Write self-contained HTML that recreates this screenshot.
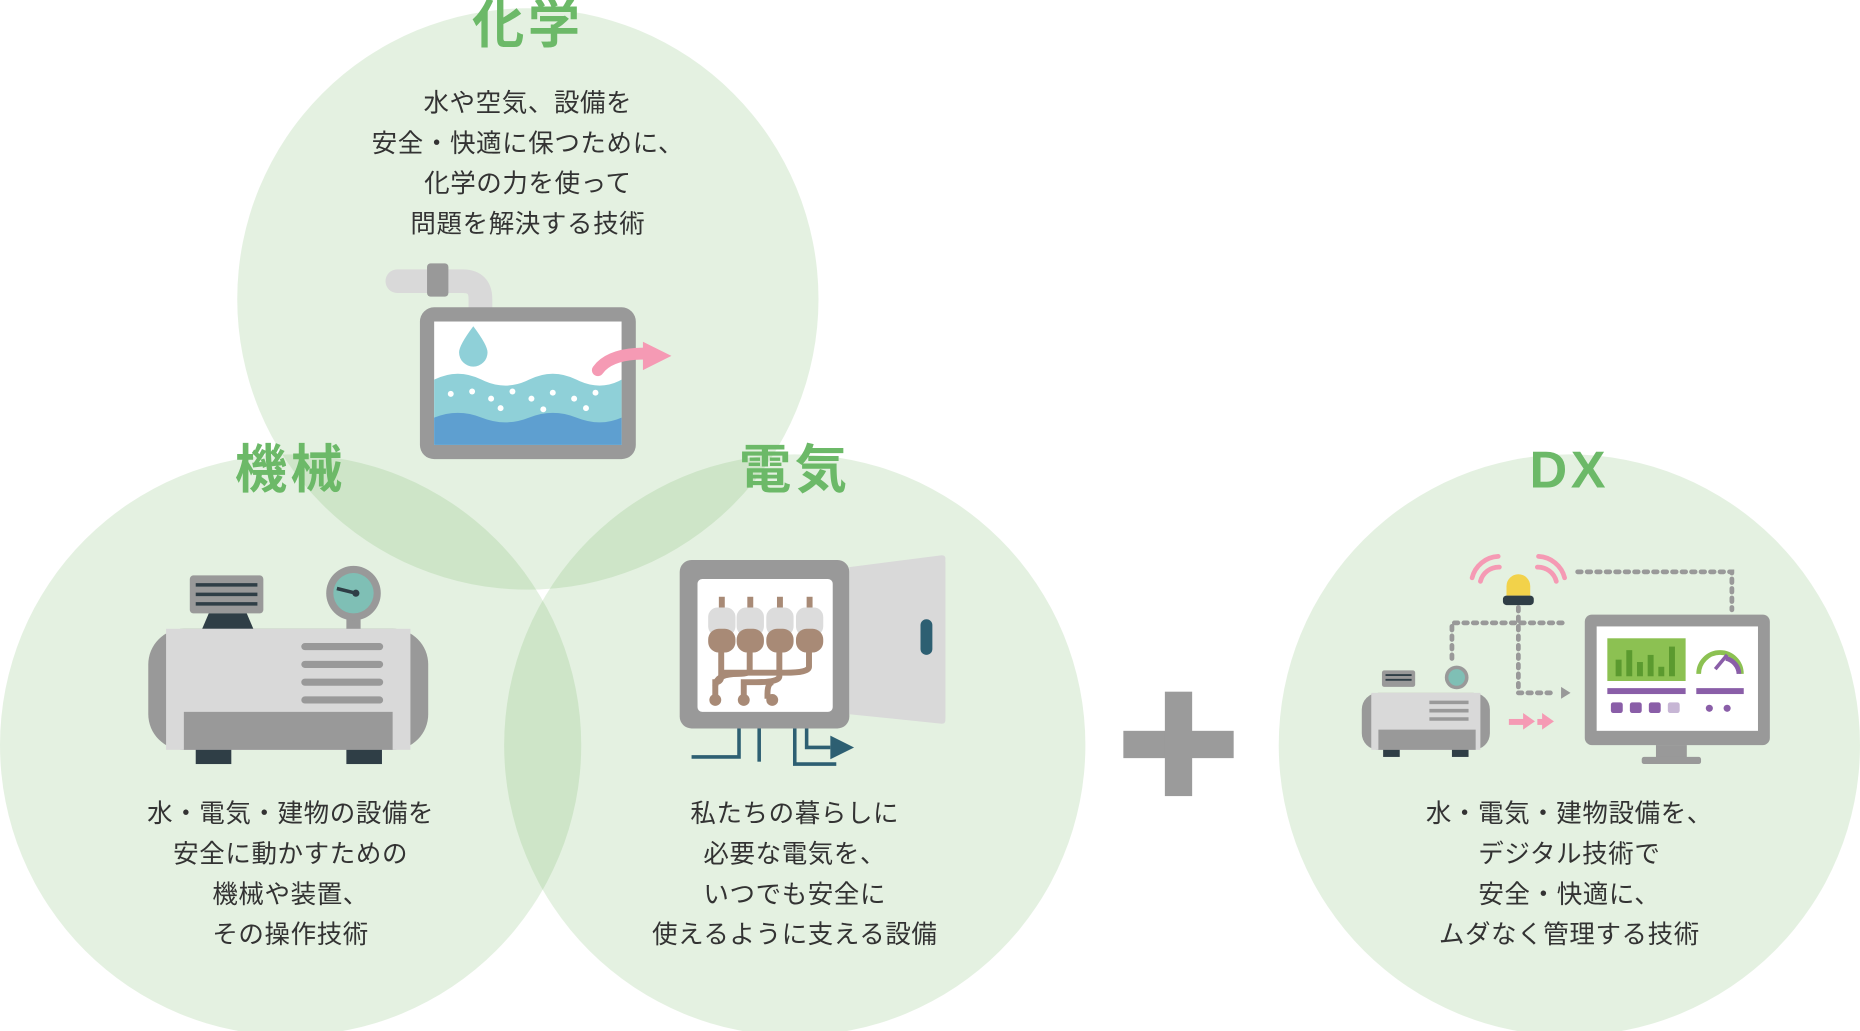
<!DOCTYPE html>
<html><head><meta charset="utf-8"><style>
html,body{margin:0;padding:0;background:#fff;width:1860px;height:1031px;overflow:hidden}
#w{position:absolute;left:0;top:0;width:1568px;height:869px;transform-origin:0 0;transform:scale(1.18622,1.18642)}
svg{position:absolute;left:0;top:0}
.t{position:absolute;text-align:center;font-family:"Liberation Sans","Noto Sans CJK JP",sans-serif;color:#333;font-size:21.5px;line-height:34px;width:400px;letter-spacing:0.5px}
.h{position:absolute;text-align:center;font-family:"Liberation Sans","Noto Sans CJK JP",sans-serif;color:#6cb968;font-size:44px;font-weight:bold;width:300px;line-height:50px;letter-spacing:3px}
</style></head><body><div id="w">
<svg width="1568" height="869" viewBox="0 0 1568 869">
<g fill="rgb(110,180,90)" fill-opacity="0.185">
<circle cx="445" cy="252" r="245"/>
<circle cx="245" cy="628" r="245"/>
<circle cx="670" cy="628" r="245"/>
<circle cx="1323" cy="628" r="245"/>
</g>
<!-- plus -->
<rect x="947" y="616" width="93" height="23" fill="#9b9b9b"/>
<rect x="982" y="583" width="23" height="88" fill="#9b9b9b"/>
<!-- chem icon -->
<rect x="325" y="227" width="50" height="20" rx="10" fill="#d9d9d9"/>
<path d="M370 237 h20 q15 0 15 15 v15" stroke="#d9d9d9" stroke-width="20" fill="none"/>
<rect x="360" y="222" width="18" height="28" rx="3" fill="#999"/>
<rect x="354" y="259" width="182" height="128" rx="12" fill="#999"/>
<rect x="366" y="271" width="158" height="104" fill="#fff"/>
<path d="M366 320 q20 -10 40 0 t40 0 t40 0 t38 0 V375 H366Z" fill="#8fd0d8"/>
<path d="M366 352 q20 -8 40 0 t40 0 t40 0 t38 0 V375 H366Z" fill="#5e9fd0"/>
<g fill="#fff"><circle cx="380" cy="332" r="2.5"/><circle cx="398" cy="330" r="2.5"/><circle cx="414" cy="336" r="2.5"/><circle cx="432" cy="330" r="2.5"/><circle cx="448" cy="336" r="2.5"/><circle cx="466" cy="331" r="2.5"/><circle cx="484" cy="336" r="2.5"/><circle cx="502" cy="331" r="2.5"/><circle cx="422" cy="344" r="2.5"/><circle cx="458" cy="345" r="2.5"/><circle cx="494" cy="344" r="2.5"/></g>
<path d="M399 275 q-12 16 -12 22 a12 12 0 0 0 24 0 q0 -6 -12 -22Z" fill="#8fd0d8"/>
<rect x="510" y="290" width="26" height="30" fill="#e5f1df" opacity="0"/>
<path d="M504 312 q10 -14 40 -14" stroke="#f59ab4" stroke-width="10" fill="none" stroke-linecap="round"/>
<path d="M542 288 l24 12 l-24 12Z" fill="#f59ab4"/>
<!-- machine icon -->
<rect x="160" y="485" width="62" height="32" rx="3" fill="#999"/>
<g stroke="#2f3e46" stroke-width="3"><line x1="165" y1="493" x2="217" y2="493"/><line x1="165" y1="501" x2="217" y2="501"/><line x1="165" y1="509" x2="217" y2="509"/></g>
<path d="M176 517 h32 l6 14 h-44z" fill="#2f3e46"/>
<rect x="292" y="518" width="12" height="14" fill="#999"/>
<circle cx="298" cy="500" r="23" fill="#999"/><circle cx="298" cy="500" r="17" fill="#7fbfb5"/>
<line x1="284" y1="496" x2="300" y2="500" stroke="#2f3e46" stroke-width="3"/><circle cx="300" cy="500" r="3" fill="#2f3e46"/>
<rect x="125" y="530" width="236" height="102" rx="30" fill="#999"/>
<rect x="140" y="530" width="206" height="102" fill="#d9d9d9"/>
<rect x="155" y="600" width="176" height="32" fill="#999"/>
<g stroke="#999" stroke-width="6" stroke-linecap="round"><line x1="257" y1="545" x2="320" y2="545"/><line x1="257" y1="560" x2="320" y2="560"/><line x1="257" y1="575" x2="320" y2="575"/><line x1="257" y1="590" x2="320" y2="590"/></g>
<rect x="165" y="632" width="30" height="12" fill="#2f3e46"/><rect x="292" y="632" width="30" height="12" fill="#2f3e46"/>
<!-- electric icon -->
<rect x="573" y="472" width="143" height="142" rx="10" fill="#999"/>
<rect x="588" y="488" width="114" height="112" rx="4" fill="#fff"/>
<path d="M716 478 l78 -10 q3 0 3 3 v136 q0 3 -3 3 l-78 -8Z" fill="#d9d9d9"/>
<rect x="776" y="522" width="10" height="30" rx="5" fill="#2d5f72"/>
<g fill="#a88a76">
<rect x="606" y="503" width="5" height="12"/><rect x="630" y="503" width="5" height="12"/><rect x="655" y="503" width="5" height="12"/><rect x="680" y="503" width="5" height="12"/>
</g>
<g fill="#dcdcdc"><rect x="597" y="512" width="23" height="24" rx="8"/><rect x="621" y="512" width="23" height="24" rx="8"/><rect x="646" y="512" width="23" height="24" rx="8"/><rect x="671" y="512" width="23" height="24" rx="8"/></g>
<g fill="#a88a76"><rect x="597" y="530" width="23" height="20" rx="9"/><rect x="621" y="530" width="23" height="20" rx="9"/><rect x="646" y="530" width="23" height="20" rx="9"/><rect x="671" y="530" width="23" height="20" rx="9"/></g>
<g stroke="#a88a76" stroke-width="5" fill="none"><path d="M608 550 v20 q0 5 -5 5 h0 v14"/><path d="M632 550 v15 q0 3 -10 3 q-18 0 -19 10"/><path d="M657 550 v20 q0 5 -20 5 h-10 v14"/><path d="M682 550 v12 q0 5 -20 5 h-55"/><path d="M652 575 q-5 0 -5 10 v4"/></g>
<g fill="#a88a76"><circle cx="603" cy="590" r="5"/><circle cx="627" cy="590" r="5"/><circle cx="651" cy="590" r="5"/></g>
<g stroke="#2d5f72" stroke-width="3" fill="none"><path d="M583 638 h40 v-24"/><path d="M640 614 v28"/><path d="M670 614 v30 h35"/><path d="M680 614 v16 h20"/></g>
<path d="M700 620 l20 10 l-20 10Z" fill="#2d5f72"/>
<!-- DX icon -->
<g fill="none" stroke="#999" stroke-width="4" stroke-dasharray="3 5" stroke-linecap="round">
<path d="M1330 482 h130 v32"/><path d="M1224 555 v-30 h98"/><path d="M1280 512 v72 h32"/>
</g>
<path d="M1316 579 l8 5 l-8 5Z" fill="#999"/>
<g stroke="#f59ab4" stroke-width="4" fill="none" stroke-linecap="round"><path d="M1248 490 a16 16 0 0 1 16 -12"/><path d="M1241 487 a24 24 0 0 1 22 -18"/><path d="M1312 490 a16 16 0 0 0 -16 -12"/><path d="M1319 487 a24 24 0 0 0 -22 -18"/></g>
<path d="M1270 502 v-8 a10 10 0 0 1 20 0 v8z" fill="#f2d24a"/>
<rect x="1267" y="502" width="26" height="8" rx="3" fill="#2f3e46"/>
<rect x="1336" y="518" width="156" height="110" rx="6" fill="#999"/>
<rect x="1346" y="528" width="136" height="88" fill="#fff"/>
<rect x="1396" y="628" width="26" height="12" fill="#999"/><rect x="1384" y="638" width="50" height="6" rx="2" fill="#999"/>
<rect x="1355" y="538" width="66" height="36" fill="#8cc152"/>
<g fill="#5b9a2f"><rect x="1362" y="556" width="5" height="14"/><rect x="1371" y="548" width="5" height="22"/><rect x="1380" y="558" width="5" height="12"/><rect x="1389" y="552" width="5" height="18"/><rect x="1398" y="562" width="5" height="8"/><rect x="1407" y="545" width="5" height="25"/></g>
<path d="M1432 568 a18 18 0 0 1 36 0" stroke="#8cc152" stroke-width="4" fill="none"/>
<path d="M1455 555 a14 14 0 0 1 11 13" stroke="#8a5ea8" stroke-width="4" fill="none"/>
<line x1="1446" y1="564" x2="1456" y2="552" stroke="#8a5ea8" stroke-width="3"/>
<rect x="1355" y="580" width="66" height="5" fill="#8a5ea8"/><rect x="1430" y="580" width="40" height="5" fill="#8a5ea8"/>
<g fill="#8a5ea8"><rect x="1358" y="592" width="10" height="9" rx="2"/><rect x="1374" y="592" width="10" height="9" rx="2"/><rect x="1390" y="592" width="10" height="9" rx="2"/><rect x="1406" y="592" width="10" height="9" rx="2" fill="#c7b6d5"/><circle cx="1441" cy="597" r="3"/><circle cx="1456" cy="597" r="3"/></g>
<rect x="1165" y="565" width="28" height="14" rx="2" fill="#999"/>
<g stroke="#2f3e46" stroke-width="1.5"><line x1="1168" y1="569" x2="1190" y2="569"/><line x1="1168" y1="573" x2="1190" y2="573"/></g>
<circle cx="1228" cy="571" r="10" fill="#999"/><circle cx="1228" cy="571" r="7" fill="#7fbfb5"/>
<rect x="1148" y="584" width="108" height="48" rx="14" fill="#999"/>
<rect x="1156" y="584" width="92" height="48" fill="#d9d9d9"/>
<rect x="1162" y="615" width="82" height="17" fill="#999"/>
<g stroke="#999" stroke-width="3"><line x1="1205" y1="592" x2="1238" y2="592"/><line x1="1205" y1="599" x2="1238" y2="599"/><line x1="1205" y1="606" x2="1238" y2="606"/></g>
<rect x="1166" y="632" width="14" height="6" fill="#2f3e46"/><rect x="1224" y="632" width="14" height="6" fill="#2f3e46"/>
<g fill="#f59ab4"><rect x="1272" y="606" width="14" height="5"/><path d="M1284 601 l10 7 l-10 7Z"/><rect x="1296" y="606" width="6" height="5"/><path d="M1300 601 l10 7 l-10 7Z"/></g>
</svg>
<div class="h" style="left:295px;top:-3px">化学</div>
<div class="h" style="left:95px;top:372px">機械</div>
<div class="h" style="left:520px;top:372px">電気</div>
<div class="h" style="left:1173px;top:372px">DX</div>
<div class="t" style="left:245px;top:70px">水や空気、設備を<br>安全・快適に保つために、<br>化学の力を使って<br>問題を解決する技術</div>
<div class="t" style="left:45px;top:669px">水・電気・建物の設備を<br>安全に動かすための<br>機械や装置、<br>その操作技術</div>
<div class="t" style="left:470px;top:669px">私たちの暮らしに<br>必要な電気を、<br>いつでも安全に<br>使えるように支える設備</div>
<div class="t" style="left:1123px;top:669px">水・電気・建物設備を、<br>デジタル技術で<br>安全・快適に、<br>ムダなく管理する技術</div>
</div></body></html>
